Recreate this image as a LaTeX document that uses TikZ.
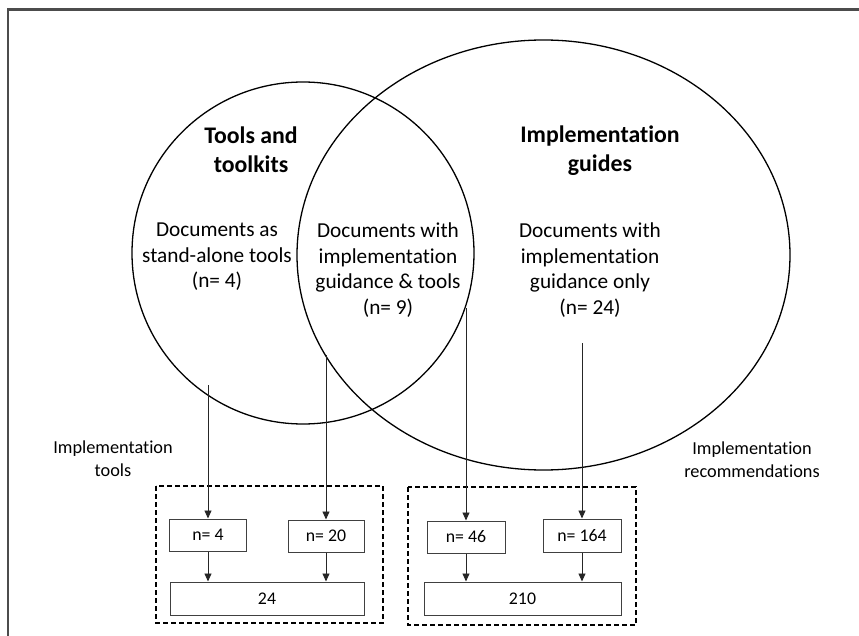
\documentclass[tikz,border=0pt]{standalone}
\usepackage{fontspec}
\setmainfont{Carlito}[Ligatures=NoCommon]
\usetikzlibrary{arrows.meta}
\begin{document}
\begin{tikzpicture}[x=1pt,y=-1pt,
  venn/.style={draw=black,line width=1.3pt},
  titletext/.style={align=center,inner sep=0pt,font=\fontsize{23.8}{29}\selectfont\bfseries},
  bodytext/.style={align=center,inner sep=0pt,font=\fontsize{21.3}{25.6}\selectfont},
  sidetext/.style={align=center,inner sep=0pt,font=\fontsize{18.3}{23}\selectfont},
  countbox/.style={draw=black!75,line width=1pt,rectangle,inner sep=0pt,minimum width=77pt,minimum height=32pt,font=\fontsize{17.8}{20}\selectfont},
  totbox/.style={countbox,minimum width=195pt,minimum height=33pt},
  groupbox/.style={draw=black,line width=1.2pt,dash pattern=on 5pt off 3pt},
  arr/.style={draw=black!85,line width=0.9pt,-{Triangle[width=7pt,length=8pt]}}
]
\useasboundingbox (0,0) rectangle (859,636);
% frame
\draw[line width=2.5pt,draw=black!70] (8,636) -- (8,9.5) -- (859,9.5);
% venn
\draw[venn] (303,253) circle[radius=171pt];
\draw[venn] (543.5,255) ellipse[x radius=246.5pt,y radius=215pt];
% texts
\node[titletext] (tt) at (251,150) {Tools and\\toolkits};
\node[titletext] (ig) at (600,151) {Implementation\\guides};
\node[bodytext] (d1) at (217,257) {Documents as\\stand-alone tools\\(n= 4)};
\node[bodytext] (d2) at (388,270) {Documents with\\implementation\\guidance \& tools\\(n= 9)};
\node[bodytext] (d3) at (590,270) {Documents with\\implementation\\guidance only\\(n= 24)};
\node[sidetext] (it) at (113,459) {Implementation\\tools};
\node[sidetext] (ir) at (752,460) {Implementation\\recommendations};
% group boxes
\draw[groupbox] (156,486) rectangle (383,623);
\draw[groupbox] (408,487) rectangle (636,625);
% count boxes
\node[countbox] (n4) at (208,535) {n= 4};
\node[countbox,minimum width=76pt] (n20) at (326,536) {n= 20};
\node[totbox,minimum width=194pt] (t1) at (267,598.5) {24};
\node[countbox,minimum width=78pt] (n46) at (466,537) {n= 46};
\node[countbox,minimum width=78pt,minimum height=33pt] (n164) at (582,535.5) {n= 164};
\node[totbox,minimum width=197pt] (t2) at (522.5,598.5) {210};
% arrow starts
\coordinate (s1) at (208,385);
\coordinate (s2) at (326,355);
\coordinate (s3) at (466,308);
\coordinate (s4) at (582,343);
\draw[arr] (s1) -- (n4.north);
\draw[arr] (s2) -- (n20.north);
\draw[arr] (s3) -- (n46.north);
\draw[arr] (s4) -- (n164.north);
\draw[arr] (n4.south) -- (n4.south |- t1.north);
\draw[arr] (n20.south) -- (n20.south |- t1.north);
\draw[arr] (n46.south) -- (n46.south |- t2.north);
\draw[arr] (n164.south) -- (n164.south |- t2.north);
\end{tikzpicture}
\end{document}
